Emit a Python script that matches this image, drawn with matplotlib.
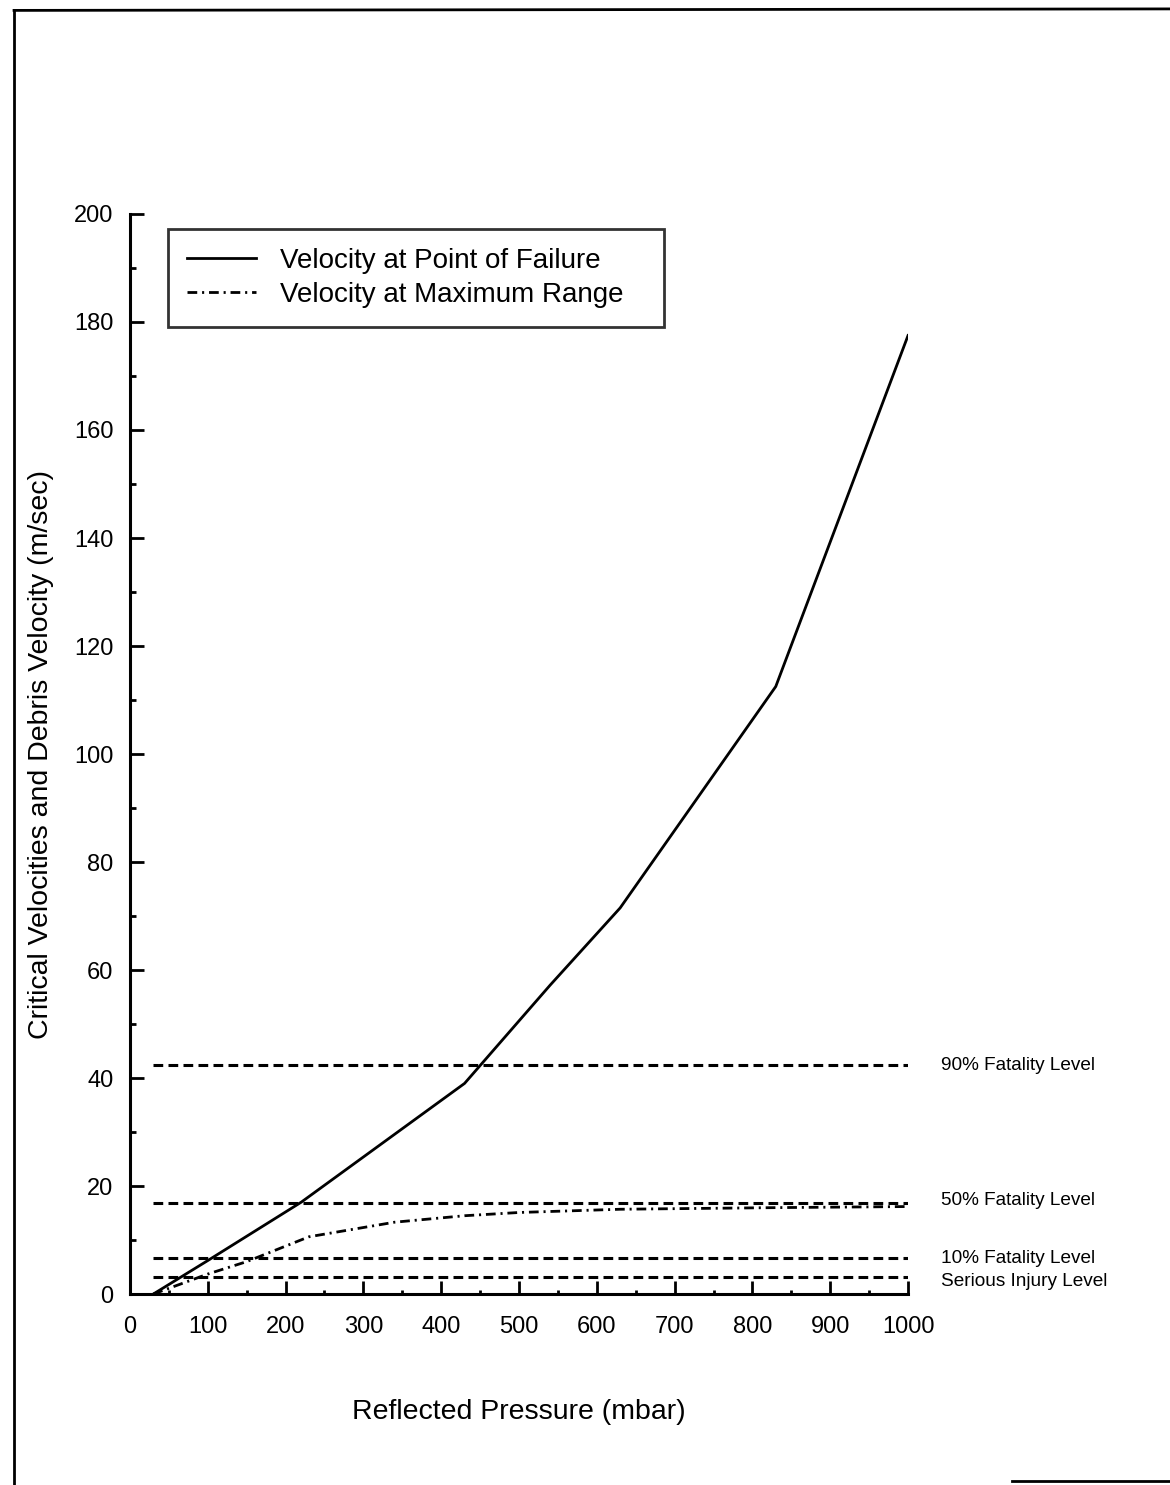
import matplotlib
matplotlib.use("Agg")
import matplotlib.pyplot as plt
from matplotlib.lines import Line2D
from matplotlib.ticker import MultipleLocator

plt.rcParams['font.family'] = ['Liberation Sans', 'DejaVu Sans']
plt.rcParams['lines.scale_dashes'] = False

# Velocity at point of failure
fail_p = [30, 100, 220, 430, 540, 630, 730, 830, 1000]
fail_v = [0, 6.2, 17, 39, 57.2, 71.5, 92, 112.5, 177.5]

# Velocity at maximum range
range_p = [30, 100, 150, 230, 340, 430, 500, 630, 830, 1000]
range_v = [0, 3.7, 6.0, 10.6, 13.3, 14.5, 15.1, 15.7, 16.0, 16.2]

# injury / fatality thresholds
level_names = ['90% Fatality Level', '50% Fatality Level', '10% Fatality Level', 'Serious Injury Level']
level_vals = [42.5, 16.8, 6.7, 3.2]
label_y = [42.3, 17.4, 6.6, 2.3]
level_start = 30
level_end = 1000

fig = plt.figure(figsize=(11.7, 14.85), dpi=100)
ax = fig.add_axes([0.1111, 0.1286, 0.6650, 0.7273])

ax.plot(fail_p, fail_v, color='black', lw=2.0, label='Velocity at Point of Failure')
ax.plot(range_p, range_v, color='black', lw=2.0, linestyle=(0, (7, 3.5, 1.5, 3.5)),
        label='Velocity at Maximum Range')

for name, v, ly in zip(level_names, level_vals, label_y):
    ax.plot([level_start, level_end], [v, v], color='black', lw=2.2, linestyle=(0, (7, 3.8)))
    ax.text(1042, ly, name, fontsize=13.7, va='center', ha='left')

ax.set_xlim(0, 1000)
ax.set_ylim(0, 200)
ax.xaxis.set_major_locator(MultipleLocator(100))
ax.xaxis.set_minor_locator(MultipleLocator(50))
ax.yaxis.set_major_locator(MultipleLocator(20))
ax.yaxis.set_minor_locator(MultipleLocator(10))
ax.tick_params(which='both', direction='in', width=2, labelsize=17)
ax.tick_params(axis='x', which='major', length=9.5, pad=16)
ax.tick_params(axis='x', which='minor', length=3)
ax.tick_params(axis='y', which='major', length=10, pad=12)
ax.tick_params(axis='y', which='minor', length=4.5)

for s in ['top', 'right']:
    ax.spines[s].set_visible(False)
for s in ['left', 'bottom']:
    ax.spines[s].set_linewidth(2.2)

ax.set_xlabel('Reflected Pressure (mbar)', fontsize=20.5, labelpad=44)
ax.set_ylabel('Critical Velocities and Debris Velocity (m/sec)', fontsize=20.5, labelpad=14)

leg = ax.legend(loc='upper left', bbox_to_anchor=(0.049, 0.0, 0.6375, 0.986), mode='expand',
                borderaxespad=0, fontsize=20, frameon=True, fancybox=False, edgecolor='black',
                handlelength=2.5, handletextpad=0.85, labelspacing=0.28, borderpad=0.68)
leg.get_frame().set_linewidth(2)

# scan frame lines around the page
fig.add_artist(Line2D([0.012, 0.012], [0.0, 0.993], color='black', lw=2))
fig.add_artist(Line2D([0.012, 1.0], [0.993, 0.994], color='black', lw=2))
fig.add_artist(Line2D([0.865, 1.0], [0.003, 0.003], color='black', lw=2))

fig.savefig('out.png', dpi=100)
